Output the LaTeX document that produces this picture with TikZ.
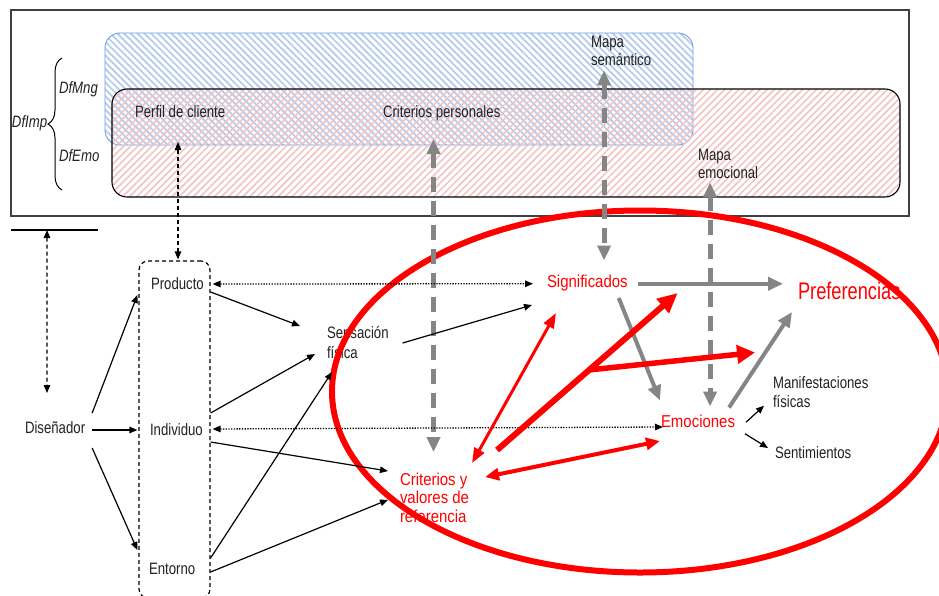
\documentclass[tikz,border=0pt]{standalone}
\usepackage{fontspec}
\setmainfont{Liberation Sans}[FakeStretch=0.8]
\newfontfamily\redfont{Liberation Sans}[FakeStretch=0.87]
\newfontfamily\preffont{Liberation Sans}[FakeStretch=0.76]
\usetikzlibrary{arrows.meta,calc,patterns.meta,decorations.pathreplacing}
\definecolor{ink}{HTML}{222222}
\definecolor{framegray}{HTML}{404040}
\definecolor{hatchblue}{HTML}{B3CAEE}
\definecolor{edgeblue}{HTML}{6D9EE3}
\definecolor{hatchred}{HTML}{F2C2C2}
\definecolor{arrowgray}{HTML}{858585}
\definecolor{hot}{HTML}{FF0000}
\newcommand\twolines[2]{\begin{tabular}[t]{@{}l@{}}#1\\#2\end{tabular}}
\newcommand\threelines[3]{\begin{tabular}[t]{@{}l@{}}#1\\#2\\#3\end{tabular}}
\begin{document}
\begin{tikzpicture}[x=1pt,y=-1pt,
  txt/.style={anchor=base west, inner sep=0pt, outer sep=0pt, text=ink,
    font=\fontsize{16.5}{18}\selectfont},
  one/.style={txt, text height=12pt, text depth=0pt},
  multi/.style={txt},
  redone/.style={txt, text=hot, font=\redfont\fontsize{17.2}{18.5}\selectfont,
    text height=12.5pt, text depth=0pt},
  redmulti/.style={txt, text=hot, font=\redfont\fontsize{17.2}{18.5}\selectfont},
  preflbl/.style={txt, text=hot, font=\preffont\fontsize{24}{26}\selectfont,
    text height=18pt, text depth=0pt},
  blk/.tip={Triangle[length=8pt,width=6.5pt]},
  gtip/.tip={Triangle[length=15pt,width=13pt]},
  rsmall/.tip={Triangle[length=15pt,width=11pt]},
  rmid/.tip={Triangle[length=14pt,width=12pt]},
  rbig/.tip={Triangle[length=20pt,width=18pt]},
  thinarrow/.style={line width=1.2pt, draw=black},
  dotline/.style={line width=1.3pt, draw=black, dash pattern=on 1.3pt off 1.4pt},
  dashline/.style={line width=1.2pt, draw=black, dash pattern=on 4pt off 3pt},
  grayarrow/.style={line width=4pt, draw=arrowgray},
  graydash/.style={line width=5pt, draw=arrowgray, dash pattern=on 15pt off 9pt},
  redarrow/.style={draw=hot},
  panel/.style={inner sep=0pt, outer sep=0pt, rounded corners=15pt},
]
\useasboundingbox (0,0) rectangle (939,595);
\clip (0,0) rectangle (939,595);
\fill[white] (0,0) rectangle (939,595);

% ---- upper frame with the two hatched domains
\node[draw=framegray, line width=1.3pt, inner sep=0pt, minimum width=898pt,
  minimum height=206pt] (imp) at (460,113) {};
\node[panel, draw=edgeblue, line width=0.9pt, minimum width=588pt, minimum height=112pt,
  pattern={Lines[angle=-45,distance=4.8pt,line width=1.7pt]}, pattern color=hatchblue]
  (mng) at (399,89) {};
\node[panel, draw=black, line width=1.1pt, minimum width=788pt, minimum height=108pt,
  pattern={Lines[angle=45,distance=5pt,line width=1.5pt]}, pattern color=hatchred]
  (emob) at (506,143) {};

% brace and its labels
\coordinate (brB) at (62,190);
\coordinate (brT) at (62,58);
\draw[decorate, decoration={brace, amplitude=14pt}, line width=1pt] (brB) -- (brT);
\node[one, font=\itshape\fontsize{16.5}{18}\selectfont] (dfimp) at (12,127) {DfImp};
\node[one, font=\itshape\fontsize{16.5}{18}\selectfont] (dfmng) at (59,93) {DfMng};
\node[one, font=\itshape\fontsize{16.5}{18}\selectfont] (dfemo) at (59,161) {DfEmo};

\node[one] (perf) at (135,117) {Perfil de cliente};
\node[one] (cpers) at (383,117) {Criterios personales};
\node[multi] (msem) at (591,47) {\twolines{Mapa}{semántico}};
\node[multi] (memo) at (698,160) {\twolines{Mapa}{emocional}};

% short rule under the frame
\coordinate (hlA) at (11,230);
\coordinate (hlB) at (98,230);
\draw[line width=1.1pt] (hlA) -- (hlB);

% ---- lower part
\node[draw, dashline, rounded corners=9pt, inner sep=0pt, minimum width=71pt,
  minimum height=337pt] (ctx) at (174.5,429.5) {};
\node[one] (dis) at (25,433) {Diseñador};
\node[one] (prod) at (151,289) {Producto};
\node[one] (ind) at (150,435) {Individuo};
\node[one] (ent) at (149,574) {Entorno};
\node[multi, font=\fontsize{16.5}{20}\selectfont] (sens) at (327,338) {\twolines{Sensación}{física}};
\node[multi, font=\fontsize{16.5}{19}\selectfont] (man) at (773,388) {\twolines{Manifestaciones}{físicas}};
\node[one] (sent) at (775,458) {Sentimientos};
\node[redone] (sig) at (547,287) {Significados};
\node[redone] (emo) at (661,427) {Emociones};
\node[redmulti] (crit) at (400,485) {\threelines{Criterios y}{valores de}{referencia}};
\node[preflbl] (pref) at (798,299) {Preferencias};

% red ellipse around the affective core
\draw[hot, line width=6pt] (640,391.5) ellipse [x radius=308, y radius=181];

% dashed links to the upper frame
\draw[dashline, blk-blk] ($(hlA)!0.414!(hlB)$) -- ($(dis.north west)+(22,-28)$);
\draw[dashline, blk-blk] ($(ctx.north |- mng.south)+(3.5,-3)$) -- ($(ctx.north)+(3.5,-1)$);
\draw[graydash, gtip-gtip] ($(crit.north |- mng.south)+(-1,-6)$) -- ($(crit.north)+(-1,-20)$);
\coordinate (semTop) at ($(msem.south)+(-17,0)$);
\draw[graydash, gtip-gtip] (semTop) -- ($(semTop |- sig.north)+(0,-14)$);
\coordinate (emoTop) at ($(memo.south)+(-18,-1)$);
\draw[graydash, gtip-gtip] (emoTop) -- ($(emoTop |- emo.north)+(0,-8)$);

% dotted feedback links
\draw[dotline, blk-blk] ($(ctx.east |- prod)+(2,1)$) -- ($(sig.west)+(-14,3)$);
\draw[dotline, blk-blk] ($(ctx.east |- ind)+(2,0)$) -- ($(emo.south west)+(2,0)$);

% designer to the three contexts
\draw[thinarrow, -blk] ($(dis.east)+(7,-14)$) -- ($(ctx.west |- prod)+(-1,12)$);
\coordinate (dmid) at ($(dis.east)+(7,3)$);
\draw[thinarrow, -blk] (dmid) -- ($(ctx.west |- dmid)+(-1,0)$);
\draw[thinarrow, -blk] ($(dis.east)+(7,21)$) -- ($(ctx.west |- ent)+(-1,-18)$);

% contexts to sensation and criteria
\draw[thinarrow, -blk] ($(ctx.east |- prod)+(0,9)$) -- ($(sens.west)+(-27,-18)$);
\draw[thinarrow, -blk] ($(ctx.east |- ind)+(0,-16)$) -- ($(sens.west)+(-12,10)$);
\draw[thinarrow, -blk] ($(ctx.east |- ent)+(0,-10)$) -- ($(sens.south west)+(5,8)$);
\draw[thinarrow, -blk] ($(ctx.east |- ind)+(0,13)$) -- ($(crit.north west)+(-12,-1)$);
\draw[thinarrow, -blk] ($(ctx.east |- ent)+(0,4)$) -- ($(crit.west)+(-12,0)$);
\draw[thinarrow, -blk] ($(sens.east)+(14,-1)$) -- ($(sig.south west)+(-15,18)$);

% emotions outcomes
\draw[thinarrow, -blk] ($(emo.east)+(11,1.5)$) -- ($(man.south west)+(-9,-7)$);
\draw[thinarrow, -blk] ($(emo.east)+(10,13)$) -- ($(sent.west)+(-7,-4)$);

% gray flows
\coordinate (g1) at ($(sig.east)+(10,3)$);
\draw[grayarrow, -gtip] (g1) -- ($(pref.west |- g1)+(-15,0)$);
\draw[grayarrow, -gtip] ($(sig.south east)+(-9,11)$) -- ($(emo.north west)+(-1,-14)$);
\draw[grayarrow, -gtip] ($(emo.north east)+(-6,-7)$) -- ($(pref.south west)+(-6,13)$);

% red flows
\draw[redarrow, line width=3pt, rsmall-rsmall] ($(crit.north east)+(3,-9)$) -- ($(sig.south west)+(9,26)$);
\coordinate (r0) at ($(crit.north east)+(28,-22)$);
\coordinate (r1) at ($(sig.south east)+(50,6)$);
\draw[redarrow, line width=6pt, -rbig] (r0) -- (r1);
\draw[redarrow, line width=5.5pt, -{Triangle[length=18pt,width=18pt]}] ($(r0)!0.51!(r1)$) -- ($(emo.north east)+(20,-62)$);
\draw[redarrow, line width=4pt, rmid-rmid] ($(crit.north east)+(16,5)$) -- ($(emo.south west)+(-1,14)$);
\end{tikzpicture}
\end{document}
